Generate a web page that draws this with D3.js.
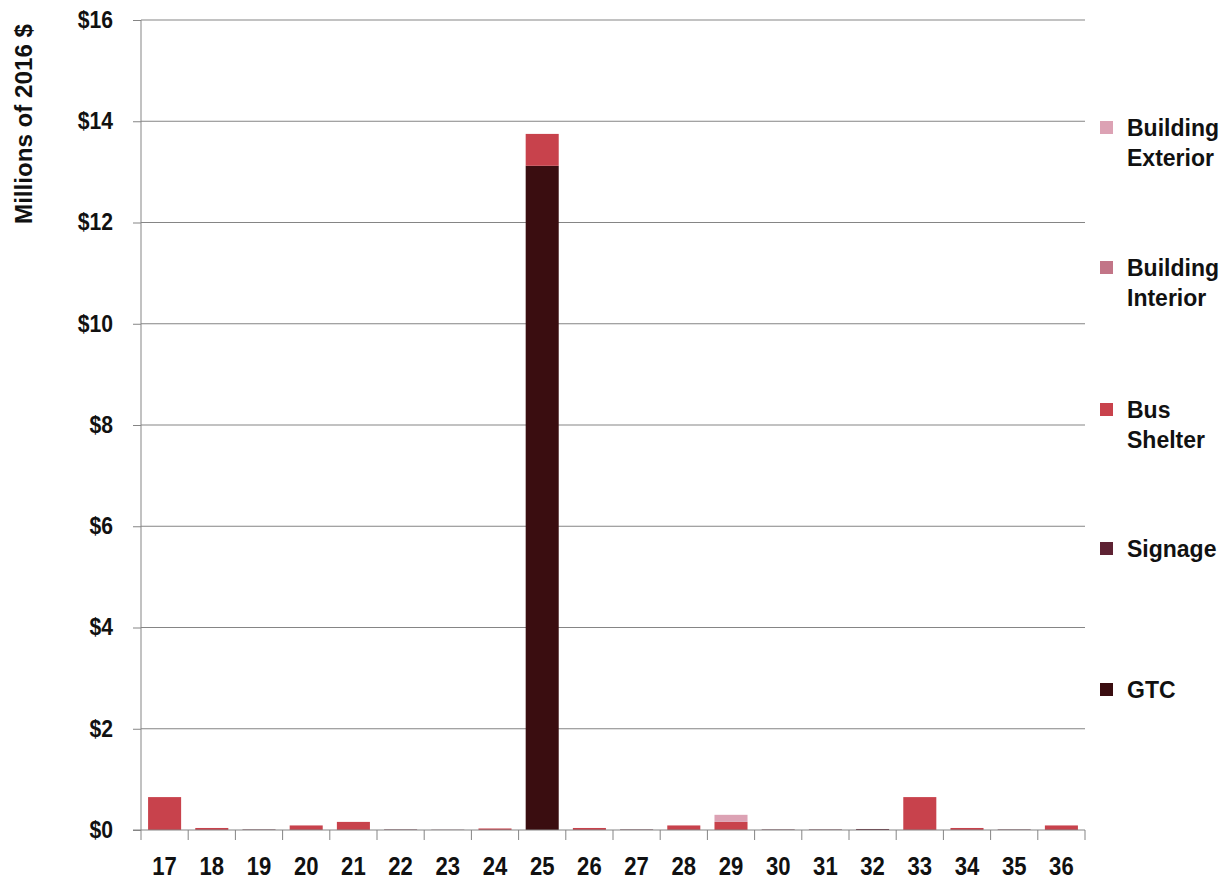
<!DOCTYPE html>
<html>
<head>
<meta charset="utf-8">
<script src="https://cdn.jsdelivr.net/npm/d3@7"></script>
<style>
  body { margin: 0; background: #fff; }
  svg text { font-family: "Liberation Sans", Arial, sans-serif; font-weight: bold; fill: #111; }
</style>
</head>
<body>
<div id="chart"></div>
<script>
// categories along the x axis
const districts = ["17","18","19","20","21","22","23","24","25","26","27","28","29","30","31","32","33","34","35","36"];

// series values, millions of 2016 $
const gtc =       [0, 0, 0, 0, 0, 0, 0, 0, 13.12, 0, 0, 0, 0, 0, 0, 0, 0, 0, 0, 0];
const signage =   [0, 0, 0.01, 0, 0, 0.01, 0.005, 0, 0, 0, 0.01, 0, 0, 0.01, 0.01, 0.02, 0, 0, 0.01, 0];
const busShelter =[0.65, 0.04, 0, 0.09, 0.16, 0, 0, 0.03, 0.63, 0.04, 0, 0.09, 0.16, 0, 0, 0, 0.65, 0.04, 0, 0.09];
const bldgInterior = [0, 0, 0, 0, 0, 0, 0, 0, 0, 0, 0, 0, 0, 0, 0, 0, 0, 0, 0, 0];
const bldgExterior = [0, 0, 0, 0, 0, 0, 0, 0, 0, 0, 0, 0, 0.14, 0, 0, 0, 0, 0, 0, 0];

const yTicks = [0, 2, 4, 6, 8, 10, 12, 14, 16];

// stack order bottom to top
const seriesKeys = ["GTC", "Signage", "Bus Shelter", "Building Interior", "Building Exterior"];
const seriesVals = { "GTC": gtc, "Signage": signage, "Bus Shelter": busShelter, "Building Interior": bldgInterior, "Building Exterior": bldgExterior };
const colors = { "GTC": "#3a0d10", "Signage": "#5e2233", "Bus Shelter": "#c8424c", "Building Interior": "#c27587", "Building Exterior": "#dca2b4" };
const legendLabels = {
  "Building Exterior": ["Building", "Exterior"],
  "Building Interior": ["Building", "Interior"],
  "Bus Shelter": ["Bus", "Shelter"],
  "Signage": ["Signage"],
  "GTC": ["GTC"]
};

const W = 1228, H = 882;
const margin = { top: 20, right: 143, bottom: 52, left: 141 };
const width = W - margin.left - margin.right;
const height = H - margin.top - margin.bottom;

const rows = districts.map((d, i) => {
  const r = { district: d };
  seriesKeys.forEach(k => r[k] = seriesVals[k][i]);
  return r;
});
const stacked = d3.stack().keys(seriesKeys)(rows);

const svg = d3.select("#chart").append("svg").attr("width", W).attr("height", H);
const g = svg.append("g").attr("transform", `translate(${margin.left},${margin.top})`);

const x = d3.scaleBand().domain(districts).range([0, width]).paddingInner(0.3).paddingOuter(0.15);
const y = d3.scaleLinear().domain([0, 16]).range([height, 0]);

// gridlines
g.append("g").selectAll("line").data(yTicks.filter(t => t > 0)).join("line")
  .attr("x1", 0).attr("x2", width)
  .attr("y1", d => y(d)).attr("y2", d => y(d))
  .attr("stroke", "#858585").attr("stroke-width", 1);

// bars
g.append("g").selectAll("g").data(stacked).join("g")
  .attr("fill", d => colors[d.key])
  .selectAll("rect").data(d => d).join("rect")
  .attr("x", d => x(d.data.district))
  .attr("width", x.bandwidth())
  .attr("y", d => y(d[1]))
  .attr("height", d => Math.max(0, y(d[0]) - y(d[1])));

// y axis
const yAxis = g.append("g")
  .call(d3.axisLeft(y).tickValues(yTicks).tickFormat(d => "$" + d).tickSize(8).tickPadding(20));
yAxis.select(".domain").attr("stroke", "#858585").attr("d", `M0,${height}V0`);
yAxis.selectAll(".tick line").attr("stroke", "#858585");
yAxis.selectAll(".tick text").attr("font-size", 23).attr("fill", "#111")
  .attr("transform", "scale(0.92,1)")
  .attr("x", -28 / 0.92);

// x axis with ticks at category boundaries
const xAxisG = g.append("g").attr("transform", `translate(0,${height})`);
xAxisG.append("line").attr("x1", -8).attr("x2", width).attr("y1", 0).attr("y2", 0).attr("stroke", "#858585");
const bounds = d3.range(districts.length + 1).map(i => i * (width / districts.length));
xAxisG.selectAll(".xt").data(bounds).join("line").attr("class", "xt")
  .attr("x1", d => d).attr("x2", d => d).attr("y1", 0).attr("y2", 10)
  .attr("stroke", "#858585");
xAxisG.selectAll(".xl").data(districts).join("text").attr("class", "xl")
  .attr("transform", d => `translate(${x(d) + x.bandwidth() / 2},45) scale(0.85,1)`)
  .attr("text-anchor", "middle")
  .attr("font-size", 26)
  .text(d => d);

// y title
svg.append("text")
  .attr("transform", "translate(32,124) rotate(-90) scale(1.05,1)")
  .attr("text-anchor", "middle")
  .attr("font-size", 23)
  .text("Millions of 2016 $");

// legend
const legendOrder = ["Building Exterior", "Building Interior", "Bus Shelter", "Signage", "GTC"];
const legendY = [128, 268, 410, 549, 690];
const legend = svg.append("g").attr("class", "legend");
legendOrder.forEach((k, i) => {
  const lg = legend.append("g").attr("transform", `translate(1100,${legendY[i]})`);
  lg.append("rect").attr("x", 0).attr("y", -7).attr("width", 13).attr("height", 13).attr("fill", colors[k]);
  legendLabels[k].forEach((line, j) => {
    lg.append("text").attr("x", 27).attr("y", j * 30 + 8).attr("font-size", 23).text(line);
  });
});
</script>
</body>
</html>
